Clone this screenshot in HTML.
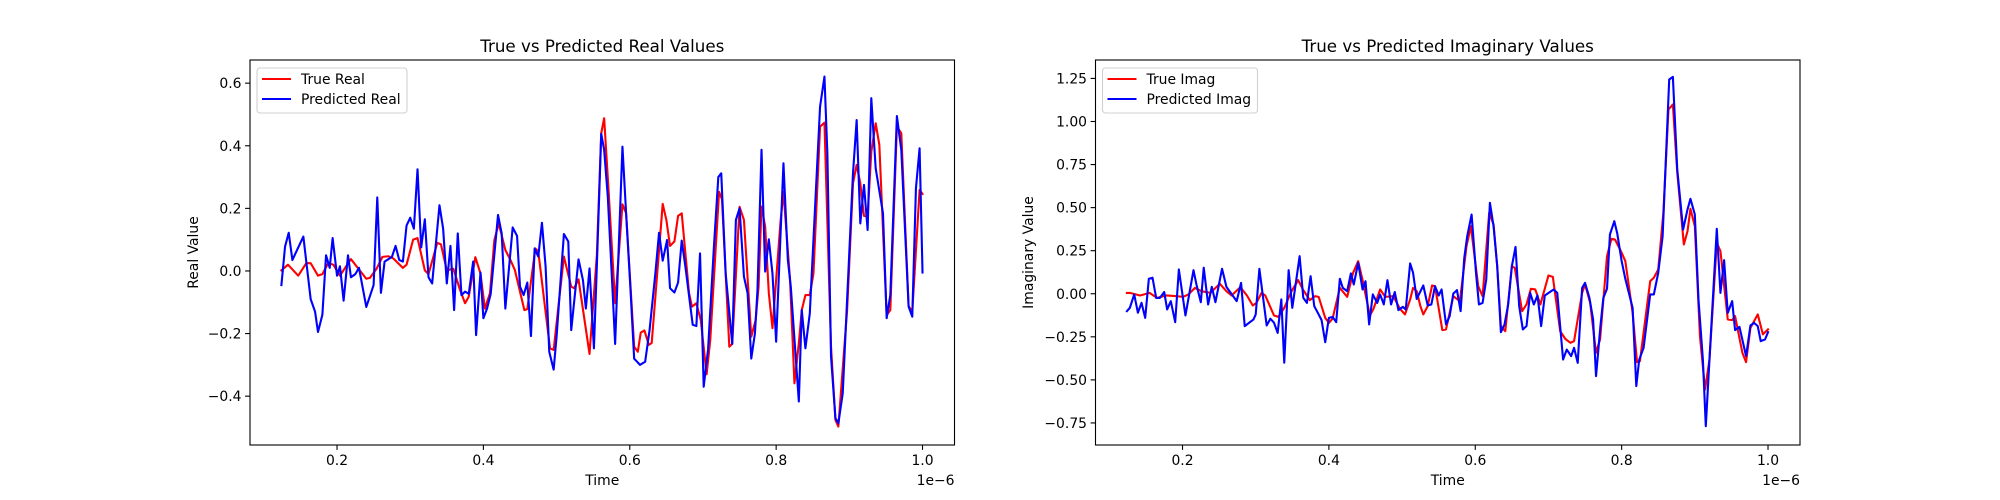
<!DOCTYPE html>
<html><head><meta charset="utf-8">
<style>
html,body{margin:0;padding:0;background:#fff;}
svg{display:block;font-family:"DejaVu Sans","Liberation Sans",sans-serif;}
</style></head>
<body>
<svg id="fig" width="2000" height="500" viewBox="0 0 2000 500" xmlns="http://www.w3.org/2000/svg">
<rect x="0" y="0" width="2000" height="500" fill="#fff"/>
</svg>
<script>
// ---- Real chart data (time in units of 1e-6) ----
const tTrueReal=[.124,.133,.147,.158,.164,.174,.180,.188,.195,.204,.219,.225,.240,.245,.254,.262,.270,.277,.290,.295,.304,.310,.320,.325,.337,.342,.350,.359,.368,.375,.380,.389,.396,.402,.409,.415,.421,.430,.437,.443,.456,.460,.471,.475,.491,.496,.510,.520,.524,.530,.545,.555,.561,.565,.571,.580,.590,.595,.606,.611,.615,.620,.626,.630,.645,.650,.655,.661,.666,.671,.681,.685,.691,.697,.705,.710,.722,.726,.736,.740,.750,.756,.766,.772,.776,.780,.785,.790,.795,.806,.810,.819,.825,.831,.835,.840,.846,.851,.860,.866,.875,.881,.885,.897,.905,.910,.915,.920,.925,.930,.936,.941,.951,.956,.965,.971,.981,.986,.996,1.0];
const trueReal=[.002,.02,-.015,.025,.025,-.015,-.01,.025,.02,-.015,.038,.02,-.025,-.022,.007,.045,.047,.04,.01,.02,.1,.105,.002,-.01,.09,.085,.002,.007,-.06,-.103,-.082,.044,-.008,-.12,-.071,.099,.152,.067,.035,.003,-.125,-.122,.072,.062,-.247,-.252,.046,-.05,-.055,-.027,-.265,.05,.44,.488,.259,-.103,.213,.184,-.242,-.258,-.197,-.19,-.236,-.23,.214,.163,.08,.094,.176,.184,-.071,-.114,-.103,-.157,-.33,-.22,.253,.229,-.242,-.233,.205,.163,-.21,-.157,-.05,.206,.142,-.071,-.183,.158,.253,-.029,-.359,-.231,-.125,-.077,-.077,-.008,.461,.474,-.242,-.476,-.497,-.125,.28,.339,.28,.176,.174,.381,.472,.403,-.141,-.125,.461,.44,-.112,-.13,.259,.246];
const tPredReal=[.124,.129,.134,.139,.154,.164,.170,.174,.180,.185,.190,.194,.200,.204,.209,.215,.219,.225,.230,.240,.250,.255,.260,.265,.275,.280,.285,.290,.295,.300,.305,.310,.315,.320,.325,.330,.340,.345,.350,.355,.360,.365,.370,.375,.380,.386,.390,.396,.400,.405,.410,.420,.425,.430,.440,.446,.450,.455,.460,.465,.470,.475,.480,.485,.490,.496,.500,.510,.516,.520,.530,.536,.540,.545,.551,.555,.561,.565,.570,.576,.580,.590,.595,.601,.606,.614,.621,.627,.635,.640,.645,.651,.655,.661,.666,.671,.676,.682,.686,.691,.696,.701,.707,.715,.721,.725,.731,.740,.745,.750,.756,.761,.766,.771,.7745,.780,.785,.790,.795,.800,.810,.816,.820,.831,.835,.840,.846,.860,.866,.870,.875,.881,.885,.891,.905,.910,.915,.920,.925,.930,.936,.946,.951,.956,.965,.971,.981,.986,.991,.996,1.0];
const predReal=[-.045,.078,.122,.035,.11,-.09,-.13,-.195,-.14,.05,.01,.105,-.015,.015,-.095,.05,-.02,-.01,.01,-.115,-.045,.235,-.07,.03,.045,.08,.035,.03,.145,.17,.135,.325,.075,.165,-.02,-.04,.21,.135,-.04,.08,-.125,.12,-.077,-.066,-.073,.03,-.205,-.005,-.151,-.12,-.073,.179,.12,-.12,.139,.112,-.05,-.077,-.037,-.208,.072,.046,.154,.014,-.258,-.315,-.21,.118,.094,-.189,.037,-.029,-.12,.008,-.247,.014,.438,.387,.237,-.04,-.233,.397,.184,-.06,-.28,-.30,-.29,-.19,-.007,.122,.033,.099,-.055,-.069,-.037,.097,.014,-.098,-.172,-.176,.056,-.37,-.25,.078,.3,.312,-.007,-.233,.163,.2,-.018,-.071,-.28,-.2,-.061,.387,-.002,.101,-.008,-.226,.344,.035,-.05,-.417,-.125,-.247,-.135,.525,.621,.376,-.274,-.47,-.487,-.391,.312,.482,.152,.275,.131,.552,.328,.184,-.151,-.077,.495,.387,-.114,-.146,.264,.392,-.005];
const realXTicks=[0.2,0.4,0.6,0.8,1.0];
const realXTickLabels=["0.2","0.4","0.6","0.8","1.0"];
const realYTicks=[-0.4,-0.2,0.0,0.2,0.4,0.6];
const realYTickLabels=["\u22120.4","\u22120.2","0.0","0.2","0.4","0.6"];

// ---- Imaginary chart data ----
const tTrueImag=[.124,.128,.142,.155,.165,.178,.192,.201,.208,.217,.226,.238,.251,.260,.267,.279,.288,.296,.301,.308,.313,.325,.331,.339,.349,.358,.365,.374,.381,.386,.395,.400,.405,.415,.425,.433,.440,.446,.456,.461,.470,.477,.488,.497,.504,.511,.515,.520,.525,.529,.535,.541,.545,.555,.560,.570,.579,.588,.594,.604,.610,.619,.625,.630,.635,.641,.650,.654,.664,.670,.676,.682,.689,.700,.706,.716,.723,.730,.735,.746,.750,.757,.765,.7705,.780,.786,.791,.800,.805,.815,.821,.825,.839,.844,.850,.857,.864,.870,.876,.885,.890,.894,.900,.907,.914,.920,.930,.935,.945,.951,.955,.965,.970,.976,.986,.993,1.0];
const trueImag=[.005,.005,-.01,.005,-.024,-.01,-.014,-.018,-.004,.034,.015,.005,.058,.015,-.01,.038,-.01,-.068,-.053,.005,-.01,-.126,-.134,-.082,.015,.079,.021,-.037,-.014,-.018,-.14,-.169,-.145,.034,-.018,.121,.189,.079,-.126,-.087,.025,-.018,-.014,-.087,-.12,-.033,.034,.015,-.072,-.12,-.072,.048,.044,-.211,-.207,-.014,-.043,.276,.392,.044,-.014,.47,.402,.16,-.188,-.217,.16,.15,-.101,-.062,.029,.025,-.062,.106,.098,-.217,-.262,-.285,-.275,.005,.054,-.053,-.343,-.266,.218,.319,.315,.238,.19,-.111,-.397,-.391,.073,.093,.141,.47,1.07,1.099,.702,.286,.363,.493,.392,-.246,-.556,-.382,.296,.247,-.149,-.153,-.13,-.343,-.397,-.198,-.12,-.236,-.207];
const tPredImag=[.124,.128,.134,.139,.144,.149,.154,.159,.164,.169,.175,.179,.184,.190,.195,.204,.215,.219,.225,.229,.235,.240,.245,.254,.260,.274,.280,.285,.297,.300,.305,.315,.320,.325,.330,.335,.339,.345,.350,.360,.365,.370,.375,.380,.386,.390,.395,.400,.405,.410,.415,.419,.425,.430,.434,.440,.446,.450,.455,.460,.466,.470,.475,.480,.485,.490,.495,.501,.505,.511,.515,.520,.529,.535,.540,.545,.550,.554,.560,.565,.570,.575,.580,.585,.589,.595,.601,.605,.610,.615,.620,.625,.630,.635,.640,.645,.650,.655,.660,.665,.670,.675,.680,.685,.690,.695,.707,.712,.720,.725,.731,.735,.740,.746,.750,.756,.761,.765,.771,.775,.780,.784,.790,.794,.800,.805,.815,.820,.824,.830,.839,.844,.850,.856,.865,.870,.876,.884,.890,.894,.900,.905,.911,.915,.920,.930,.935,.940,.945,.951,.955,.961,.970,.976,.981,.986,.990,.996,1.0];
const predImag=[-.101,-.082,-.004,-.11,-.053,-.14,.087,.093,-.024,-.024,.01,-.091,-.043,-.165,.141,-.126,.137,.054,-.049,.151,-.062,.04,-.049,.145,.04,-.043,.063,-.188,-.149,-.12,.145,-.184,-.145,-.168,-.227,-.033,-.40,.137,-.082,.218,-.024,-.053,.102,-.072,-.12,-.153,-.281,-.14,-.134,-.165,.087,.034,.015,.118,.054,.18,.025,.073,-.178,-.004,-.053,-.004,-.062,.079,-.062,.01,-.095,-.076,-.091,.176,.122,-.03,.048,-.068,-.062,.044,-.01,.025,-.178,-.13,.001,.021,-.101,.209,.334,.46,.122,-.062,-.053,.083,.528,.392,.16,-.223,-.178,-.062,.16,.272,-.072,-.207,-.188,.005,-.062,-.01,-.188,-.01,.025,.005,-.382,-.324,-.362,-.314,-.401,.034,.063,-.024,-.149,-.478,-.188,-.024,.029,.344,.421,.35,.19,.087,-.082,-.536,-.382,-.314,-.004,-.004,.122,.334,1.244,1.259,.721,.373,.489,.551,.46,-.033,-.382,-.769,-.382,.377,.005,.195,-.111,-.043,-.211,-.192,-.362,-.184,-.169,-.188,-.275,-.265,-.223];
const imagXTicks=[0.2,0.4,0.6,0.8,1.0];
const imagXTickLabels=["0.2","0.4","0.6","0.8","1.0"];
const imagYTicks=[-0.75,-0.5,-0.25,0.0,0.25,0.5,0.75,1.0,1.25];
const imagYTickLabels=["\u22120.75","\u22120.50","\u22120.25","0.00","0.25","0.50","0.75","1.00","1.25"];

const NS="http://www.w3.org/2000/svg";
const svg=document.getElementById('fig');
function mk(tag,attrs,parent){const e=document.createElementNS(NS,tag);for(const k in attrs)e.setAttribute(k,attrs[k]);(parent||svg).appendChild(e);return e;}

function drawChart(cfg){
  const g=mk('g',{});
  
  
  const L=cfg.left,R=cfg.right,T=60,B=445;
  const sx=v=>L+(v-cfg.xmin)/(cfg.xmax-cfg.xmin)*(R-L);
  const sy=v=>B-(v-cfg.ymin)/(cfg.ymax-cfg.ymin)*(B-T);
  // series
  function line(ts,vs,color,nm){
    let d='';for(let i=0;i<ts.length;i++){d+=(i?'L':'M')+sx(ts[i]).toFixed(2)+' '+sy(vs[i]).toFixed(2);}
    const p=mk('path',{d:d,fill:'none',stroke:color,'stroke-width':2.1,'stroke-linejoin':'round','stroke-linecap':'square'},g);
    
    
  }
  line(cfg.t1,cfg.v1,'#ff0000',cfg.n1);
  line(cfg.t2,cfg.v2,'#0000ff',cfg.n2);
  // frame
  const fr=mk('rect',{x:L,y:T,width:R-L,height:B-T,fill:'none',stroke:'#000','stroke-width':1.1},g);
  
  
  // x ticks
  cfg.xt.forEach((v,i)=>{
    const x=sx(v);
    mk('line',{x1:x,y1:B,x2:x,y2:B+4.9,stroke:'#000','stroke-width':1.1},g);
    const tx=mk('text',{x:x,y:B+20,'font-size':13.9,'text-anchor':'middle',fill:'#000'},g);
    tx.textContent=cfg.xl[i];
    
    
  });
  cfg.yt.forEach((v,i)=>{
    const y=sy(v);
    mk('line',{x1:L-4.9,y1:y,x2:L,y2:y,stroke:'#000','stroke-width':1.1},g);
    const tx=mk('text',{x:L-8.5,y:y+5,'font-size':13.9,'text-anchor':'end',fill:'#000'},g);
    tx.textContent=cfg.yl[i];
    
    
  });
  const title=mk('text',{x:(L+R)/2,y:52,'font-size':16.7,'text-anchor':'middle',fill:'#000'},g);
  title.textContent=cfg.title;
  
  
  const xlab=mk('text',{x:(L+R)/2,y:485,'font-size':13.9,'text-anchor':'middle',fill:'#000'},g);
  xlab.textContent='Time';
  
  
  const off=mk('text',{x:R,y:485,'font-size':13.9,'text-anchor':'end',fill:'#000'},g);
  off.textContent='1e\u22126';
  
  
  const ylab=mk('text',{x:cfg.ylabX,y:(T+B)/2,'font-size':13.9,'text-anchor':'middle',fill:'#000',transform:'rotate(-90 '+cfg.ylabX+' '+((T+B)/2)+')'},g);
  ylab.textContent=cfg.ylabel;
  
  
  // legend
  const lg=mk('g',{},g);
  
  
  mk('rect',{x:L+7,y:68,width:cfg.legW,height:45,rx:3,fill:'#fff','fill-opacity':0.8,stroke:'#d0d0d0','stroke-width':1.1},lg);
  [[cfg.l1,'#ff0000',79],[cfg.l2,'#0000ff',99]].forEach(([txt,c,y])=>{
    const e=mk('g',{},lg);
    
    
    mk('line',{x1:L+12,y1:y,x2:L+41,y2:y,stroke:c,'stroke-width':2.1},e);
    const t=mk('text',{x:L+51,y:y+5,'font-size':13.9,fill:'#000'},e);
    t.textContent=txt;
  });
}

drawChart({name:'real-values-chart',left:250,right:954.5,xmin:0.0811,xmax:1.0437,ymin:-0.556,ymax:0.674,
  t1:tTrueReal,v1:trueReal,t2:tPredReal,v2:predReal,n1:'true-real-line',n2:'predicted-real-line',
  xt:realXTicks,xl:realXTickLabels,yt:realYTicks,yl:realYTickLabels,
  title:'True vs Predicted Real Values',ylabel:'Real Value',ylabX:198,l1:'True Real',l2:'Predicted Real',legW:150});
drawChart({name:'imaginary-values-chart',left:1095.5,right:1800,xmin:0.0811,xmax:1.0437,ymin:-0.878,ymax:1.357,
  t1:tTrueImag,v1:trueImag,t2:tPredImag,v2:predImag,n1:'true-imag-line',n2:'predicted-imag-line',
  xt:imagXTicks,xl:imagXTickLabels,yt:imagYTicks,yl:imagYTickLabels,
  title:'True vs Predicted Imaginary Values',ylabel:'Imaginary Value',ylabX:1033,l1:'True Imag',l2:'Predicted Imag',legW:155});
</script>
</body></html>
